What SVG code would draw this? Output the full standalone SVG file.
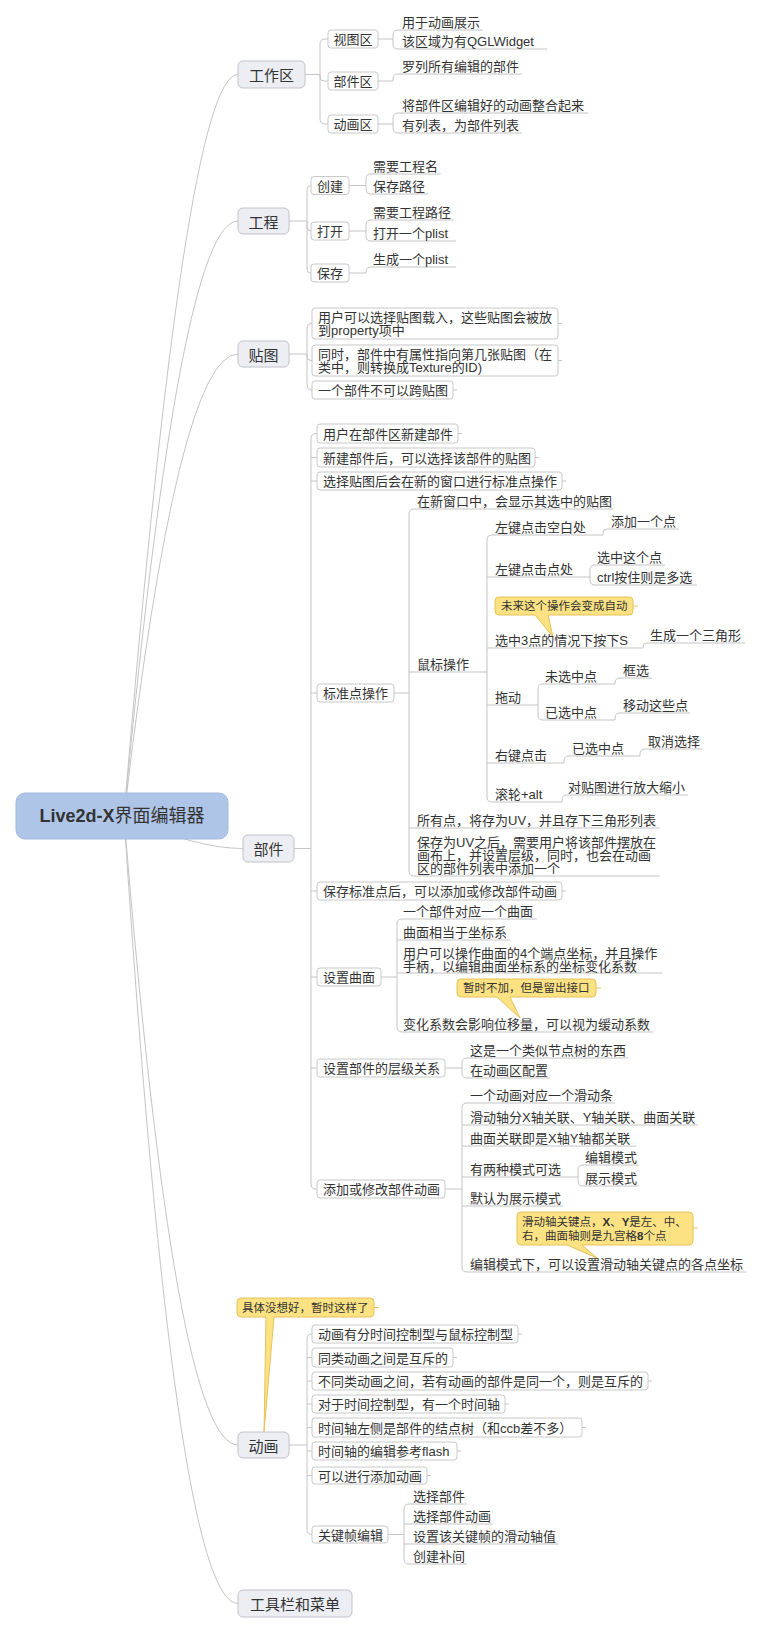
<svg xmlns="http://www.w3.org/2000/svg" width="760" height="1632" viewBox="0 0 760 1632">
<style>
.c{fill:none;stroke:#c4c4c4;stroke-width:1}
.ck{fill:none;stroke:#e8c45e;stroke-width:1}
.mb{fill:#eceef4;stroke:#c0c2c8;stroke-width:1}
.sb{fill:#fff;stroke:#c8c8c8;stroke-width:1}
.call{fill:#fde284;stroke:#e6c25a;stroke-width:1}
text{font-family:"Liberation Sans","Noto Sans CJK SC",sans-serif;fill:#333}
.s13{font-size:13px}
.s15{font-size:15px}
.ct{font-size:11.5px}
.m{text-anchor:middle}
</style>
<rect width="760" height="1632" fill="#fff"/>
<g id="connectors">
<path class="c" d="M124,816 Q185,74.5 238,74.5 M124,816 Q180,221 238,221 M124,816 Q178,354 238,354 M124,816 Q195,848.5 243,848.5 M124,816 Q175,1445 238,1445 M124,816 Q175,1603.5 238,1603.5"/>
<path class="c" d="M305,74.5 H320 M320,74.5 V44 Q320,39 325,39 H328 M320,74.5 V77 Q320,81 324,81 H328 M320,74.5 V119 Q320,124 325,124 H328"/>
<path class="c" d="M378,39 H393 M393,39 V35 Q393,30 398,30 H483 M393,39 V44 Q393,49 398,49 H547"/>
<path class="c" d="M378,81 H393 V79 Q393,74 398,74 H522"/>
<path class="c" d="M378,124 H393 M393,124 V118 Q393,113 398,113 H588 M393,124 V128 Q393,133 398,133 H522"/>
<path class="c" d="M289,221 H307 M307,221 V189.5 Q307,185.5 311,185.5 M307,221 V227 Q307,231 311,231 M307,221 V269 Q307,273 311,273"/>
<path class="c" d="M349,185.5 H366 M366,185.5 V179 Q366,174 371,174 H441 M366,185.5 V189 Q366,194 371,194 H428"/>
<path class="c" d="M349,231 H366 M366,231 V225 Q366,220 371,220 H454 M366,231 V236 Q366,241 371,241 H456"/>
<path class="c" d="M349,273 H366 V272 Q366,267 371,267 H456"/>
<path class="c" d="M289,354 H307 M307,354 V328.5 Q307,323.5 312,323.5 M307,354 V356.5 Q307,360.5 311,360.5 H312 M307,354 V385 Q307,390 312,390 M558,323.5 H562 M558,360.5 H562 M453,390 H457"/>
<path class="c" d="M294,848.5 H311 M311,848.5 V438.5 Q311,433.5 316,433.5 H317 M311,457.5 H317 M311,481 H317 M311,693 H317 M311,891 H317 M311,977 H317 M311,1068 H317 M311,848.5 V1184 Q311,1189 316,1189 H317 M458,433.5 H462 M535,457.5 H539 M562,481 H566 M562,891 H566"/>
<path class="c" d="M394,693 H409 M409,693 V514 Q409,509 414,509 H613 M409,672 H487 M409,828 H660 M409,693 V871 Q409,876 414,876 H660"/>
<path class="c" d="M487,672 V540 Q487,535 492,535 H603 M487,577 H590 M487,648 H643 M487,705 H538 M487,763 H564 M487,672 V797 Q487,802 492,802 H562"/>
<path class="c" d="M603,535 V533 Q603,529 607,529 H679 M590,577 V570 Q590,565 595,565 H665 M590,577 V580 Q590,585 595,585 H697 M643,648 V647 Q643,643 647,643 H745"/>
<path class="c" d="M538,705 V689 Q538,684 543,684 H615 M538,705 V715 Q538,720 543,720 H615 M615,684 V683 Q615,678 620,678 H652 M615,720 V718 Q615,713 620,713 H690"/>
<path class="c" d="M564,763 V761 Q564,756 569,756 H640 M640,756 V754 Q640,749 645,749 H702 M562,802 V800 Q562,795 567,795 H688"/>
<path class="c" d="M381,977 H397 M397,977 V924 Q397,919 402,919 H537 M397,940 H510 M397,973 H662 M397,977 V1027 Q397,1032 402,1032 H653"/>
<path class="c" d="M445,1068 H462 M462,1068 V1063 Q462,1058 467,1058 H628 M462,1068 V1073 Q462,1078 467,1078 H550"/>
<path class="c" d="M445,1189 H462 M462,1189 V1108 Q462,1103 467,1103 H615 M462,1125 H698 M462,1146 H636 M462,1177 H578 M462,1206 H563 M462,1189 V1267 Q462,1272 467,1272 H746"/>
<path class="c" d="M578,1177 V1170 Q578,1165 583,1165 H639 M578,1177 V1181 Q578,1186 583,1186 H639"/>
<path class="c" d="M289,1445 H307 M307,1445 V1339 Q307,1334 312,1334 M307,1357.5 H312 M307,1381 H312 M307,1404 H312 M307,1427.5 H312 M307,1451 H312 M307,1475.5 H312 M307,1445 V1529.5 Q307,1534.5 312,1534.5 M518,1334 H522 M453,1357.5 H457 M648,1381 H652 M505,1404 H509 M582,1427.5 H586 M457,1451 H461 M427,1475.5 H431"/>
<path class="c" d="M388,1534.5 H404 M404,1534.5 V1509 Q404,1504 409,1504 H467 M404,1524 H493 M404,1544 H559 M404,1534.5 V1559 Q404,1564 409,1564 H467"/>
<path class="ck" d="M633,606 H638 M596,988 H601 M693,1228 H698 M374,1307.5 H379"/>
</g>
<g id="root">
<rect x="16" y="793" width="212" height="46" rx="9" fill="#afc5e8" stroke="#a3badf"/>
<text class="m" x="122" y="822" font-size="18"><tspan font-weight="bold">Live2d-X</tspan>界面编辑器</text>
</g>
<g id="n-gongzuoqu">
<rect class="mb" x="238" y="61" width="67" height="27" rx="5"/>
<text class="s15 m" x="271.5" y="80.5">工作区</text>
<rect class="sb" x="328" y="30" width="50" height="18" rx="3"/>
<text class="s13 m" x="353" y="44">视图区</text>
<rect class="sb" x="328" y="72" width="50" height="18" rx="3"/>
<text class="s13 m" x="353" y="86">部件区</text>
<rect class="sb" x="328" y="115" width="50" height="18" rx="3"/>
<text class="s13 m" x="353" y="129">动画区</text>
<text class="s13" x="402" y="27">用于动画展示</text>
<text class="s13" x="402" y="46">该区域为有QGLWidget</text>
<text class="s13" x="402" y="71">罗列所有编辑的部件</text>
<text class="s13" x="402" y="110">将部件区编辑好的动画整合起来</text>
<text class="s13" x="402" y="130">有列表，为部件列表</text>
</g>
<g id="n-gongcheng">
<rect class="mb" x="238" y="208" width="51" height="26" rx="5"/>
<text class="s15 m" x="263.5" y="227.5">工程</text>
<rect class="sb" x="311" y="176.5" width="38" height="18" rx="3"/>
<text class="s13 m" x="330" y="190.5">创建</text>
<rect class="sb" x="311" y="222" width="38" height="18" rx="3"/>
<text class="s13 m" x="330" y="236">打开</text>
<rect class="sb" x="311" y="264" width="38" height="18" rx="3"/>
<text class="s13 m" x="330" y="278">保存</text>
<text class="s13" x="373" y="171">需要工程名</text>
<text class="s13" x="373" y="191">保存路径</text>
<text class="s13" x="373" y="217">需要工程路径</text>
<text class="s13" x="373" y="238">打开一个plist</text>
<text class="s13" x="373" y="264">生成一个plist</text>
</g>
<g id="n-tietu">
<rect class="mb" x="238" y="341" width="51" height="26" rx="5"/>
<text class="s15 m" x="263.5" y="360.5">贴图</text>
<rect class="sb" x="312" y="308" width="246" height="31" rx="3"/>
<text class="s13" x="318" y="322">用户可以选择贴图载入，这些贴图会被放</text>
<text class="s13" x="318" y="335">到property项中</text>
<rect class="sb" x="312" y="345" width="246" height="31" rx="3"/>
<text class="s13" x="318" y="359">同时，部件中有属性指向第几张贴图（在</text>
<text class="s13" x="318" y="372">类中，则转换成Texture的ID)</text>
<rect class="sb" x="312" y="381" width="141" height="18" rx="3"/>
<text class="s13" x="318" y="395">一个部件不可以跨贴图</text>
</g>
<g id="n-bujian">
<rect class="mb" x="243" y="835" width="51" height="27" rx="5"/>
<text class="s15 m" x="268.5" y="855">部件</text>
<rect class="sb" x="317" y="424" width="141" height="19" rx="3"/>
<text class="s13" x="323" y="438.5">用户在部件区新建部件</text>
<rect class="sb" x="317" y="448" width="218" height="19" rx="3"/>
<text class="s13" x="323" y="462.5">新建部件后，可以选择该部件的贴图</text>
<rect class="sb" x="317" y="472" width="245" height="18" rx="3"/>
<text class="s13" x="323" y="486">选择贴图后会在新的窗口进行标准点操作</text>
<rect class="sb" x="317" y="684" width="77" height="18" rx="3"/>
<text class="s13" x="323" y="698">标准点操作</text>
<rect class="sb" x="317" y="882" width="245" height="18" rx="3"/>
<text class="s13" x="323" y="896">保存标准点后，可以添加或修改部件动画</text>
<rect class="sb" x="317" y="968" width="64" height="18" rx="3"/>
<text class="s13" x="323" y="982">设置曲面</text>
<rect class="sb" x="317" y="1059" width="128" height="18" rx="3"/>
<text class="s13" x="323" y="1073">设置部件的层级关系</text>
<rect class="sb" x="317" y="1180" width="128" height="18" rx="3"/>
<text class="s13" x="323" y="1194">添加或修改部件动画</text>
</g>
<g id="n-biaozhundian">
<text class="s13" x="417" y="506">在新窗口中，会显示其选中的贴图</text>
<text class="s13" x="417" y="669">鼠标操作</text>
<text class="s13" x="417" y="825">所有点，将存为UV，并且存下三角形列表</text>
<text class="s13" x="417" y="847">保存为UV之后，需要用户将该部件摆放在</text>
<text class="s13" x="417" y="860">画布上，并设置层级，同时，也会在动画</text>
<text class="s13" x="417" y="873">区的部件列表中添加一个</text>
</g>
<g id="n-shubiao">
<text class="s13" x="495" y="532">左键点击空白处</text>
<text class="s13" x="611" y="526">添加一个点</text>
<text class="s13" x="495" y="574">左键点击点处</text>
<text class="s13" x="597" y="562">选中这个点</text>
<text class="s13" x="597" y="582">ctrl按住则是多选</text>
<path class="call" d="M499,597 H629 Q633,597 633,601 V611 Q633,615 629,615 H548 L553,637 L535,615 H499 Q495,615 495,611 V601 Q495,597 499,597 Z"/>
<text class="ct" x="501" y="610">未来这个操作会变成自动</text>
<text class="s13" x="495" y="645">选中3点的情况下按下S</text>
<text class="s13" x="650" y="640">生成一个三角形</text>
<text class="s13" x="495" y="702">拖动</text>
<text class="s13" x="545" y="681">未选中点</text>
<text class="s13" x="623" y="675">框选</text>
<text class="s13" x="545" y="717">已选中点</text>
<text class="s13" x="623" y="710">移动这些点</text>
<text class="s13" x="495" y="760">右键点击</text>
<text class="s13" x="572" y="753">已选中点</text>
<text class="s13" x="648" y="746">取消选择</text>
<text class="s13" x="495" y="799">滚轮+alt</text>
<text class="s13" x="568" y="792">对贴图进行放大缩小</text>
</g>
<g id="n-qumian">
<text class="s13" x="403" y="916">一个部件对应一个曲面</text>
<text class="s13" x="403" y="937">曲面相当于坐标系</text>
<text class="s13" x="403" y="957.5">用户可以操作曲面的4个端点坐标，并且操作</text>
<text class="s13" x="403" y="970.5">手柄，以编辑曲面坐标系的坐标变化系数</text>
<path class="call" d="M461,979 H592 Q596,979 596,983 V993 Q596,997 592,997 H510 L520,1018 L497,997 H461 Q457,997 457,993 V983 Q457,979 461,979 Z"/>
<text class="ct" x="463" y="992">暂时不加，但是留出接口</text>
<text class="s13" x="403" y="1029">变化系数会影响位移量，可以视为缓动系数</text>
</g>
<g id="n-cengji">
<text class="s13" x="470" y="1055">这是一个类似节点树的东西</text>
<text class="s13" x="470" y="1075">在动画区配置</text>
</g>
<g id="n-bujiandonghua">
<text class="s13" x="470" y="1100">一个动画对应一个滑动条</text>
<text class="s13" x="470" y="1122">滑动轴分X轴关联、Y轴关联、曲面关联</text>
<text class="s13" x="470" y="1143">曲面关联即是X轴Y轴都关联</text>
<text class="s13" x="470" y="1174">有两种模式可选</text>
<text class="s13" x="585" y="1162">编辑模式</text>
<text class="s13" x="585" y="1183">展示模式</text>
<text class="s13" x="470" y="1203">默认为展示模式</text>
<path class="call" d="M521,1212 H689 Q693,1212 693,1216 V1241 Q693,1245 689,1245 H582 L597,1258 L567,1245 H521 Q517,1245 517,1241 V1216 Q517,1212 521,1212 Z"/>
<text class="ct" x="522" y="1226">滑动轴关键点，<tspan font-weight="bold">X</tspan>、<tspan font-weight="bold">Y</tspan>是左、中、</text>
<text class="ct" x="522" y="1240">右，曲面轴则是九宫格<tspan font-weight="bold">8</tspan>个点</text>
<text class="s13" x="470" y="1269">编辑模式下，可以设置滑动轴关键点的各点坐标</text>
</g>
<g id="n-donghua">
<path class="call" d="M241,1298 H370 Q374,1298 374,1302 V1313 Q374,1317 370,1317 H274 L264,1432 L266,1317 H241 Q237,1317 237,1313 V1302 Q237,1298 241,1298 Z"/>
<text class="ct" x="242" y="1312">具体没想好，暂时这样了</text>
<rect class="mb" x="238" y="1432" width="51" height="26" rx="5"/>
<text class="s15 m" x="263.5" y="1451.5">动画</text>
<rect class="sb" x="312" y="1325" width="206" height="18" rx="3"/>
<text class="s13" x="318" y="1339">动画有分时间控制型与鼠标控制型</text>
<rect class="sb" x="312" y="1348" width="141" height="19" rx="3"/>
<text class="s13" x="318" y="1362.5">同类动画之间是互斥的</text>
<rect class="sb" x="312" y="1372" width="336" height="18" rx="3"/>
<text class="s13" x="318" y="1386">不同类动画之间，若有动画的部件是同一个，则是互斥的</text>
<rect class="sb" x="312" y="1395" width="193" height="18" rx="3"/>
<text class="s13" x="318" y="1409">对于时间控制型，有一个时间轴</text>
<rect class="sb" x="312" y="1418" width="270" height="19" rx="3"/>
<text class="s13" x="318" y="1432.5">时间轴左侧是部件的结点树（和ccb差不多）</text>
<rect class="sb" x="312" y="1442" width="145" height="18" rx="3"/>
<text class="s13" x="318" y="1456">时间轴的编辑参考flash</text>
<rect class="sb" x="312" y="1467" width="115" height="17" rx="3"/>
<text class="s13" x="318" y="1480.5">可以进行添加动画</text>
<rect class="sb" x="312" y="1526" width="76" height="17" rx="3"/>
<text class="s13" x="318" y="1539.5">关键帧编辑</text>
<text class="s13" x="413" y="1501">选择部件</text>
<text class="s13" x="413" y="1521">选择部件动画</text>
<text class="s13" x="413" y="1541">设置该关键帧的滑动轴值</text>
<text class="s13" x="413" y="1561">创建补间</text>
</g>
<g id="n-gongjulan">
<rect class="mb" x="238" y="1590" width="114" height="27" rx="5"/>
<text class="s15 m" x="295" y="1609.5">工具栏和菜单</text>
</g>
</svg>
